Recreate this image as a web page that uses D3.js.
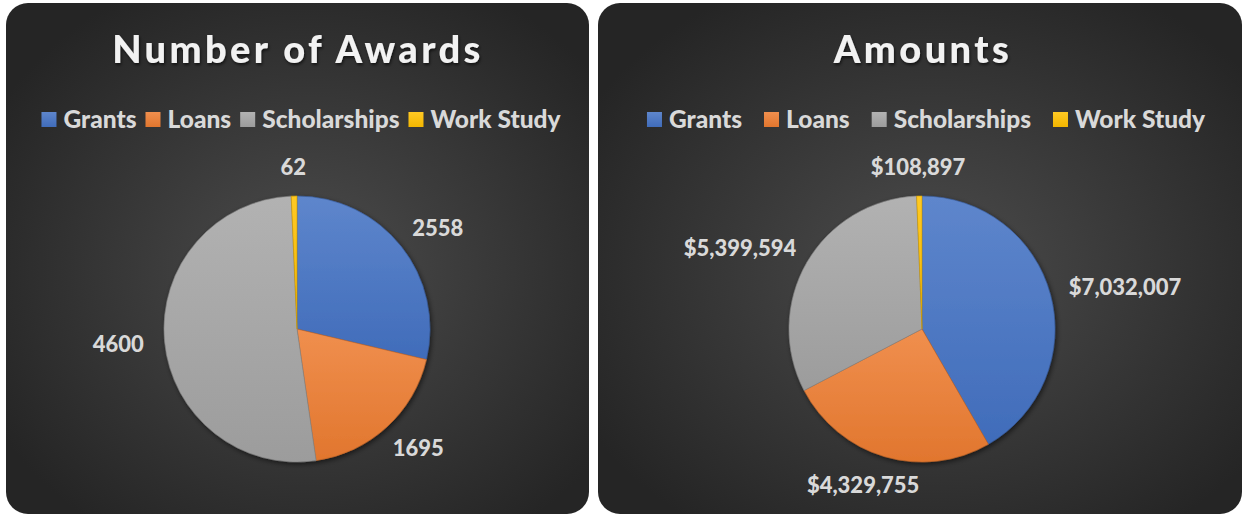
<!DOCTYPE html>
<html>
<head>
<meta charset="utf-8">
<script src="https://d3js.org/d3.v7.min.js"></script>
<style>
  body { margin: 0; background: #ffffff; }
  text { font-family: Lato, "Open Sans", sans-serif; font-weight: bold; }
</style>
</head>
<body>
<div id="chart"></div>
<script>
  // chart data
  var categories = ["Grants", "Loans", "Scholarships", "Work Study"];
  var awards = [2558, 1695, 4600, 62];
  var amounts = [7032007, 4329755, 5399594, 108897];
  var titles = ["Number of Awards", "Amounts"];
  var colors = ["#4472C4", "#ED7D31", "#A5A5A5", "#FFC000"];

  var width = 1243, height = 514;
  var radius = 133;

  var svg = d3.select("#chart")
    .append("svg")
      .attr("width", width)
      .attr("height", height);

  var defs = svg.append("defs");

  // panel background
  var bg = defs.append("radialGradient")
    .attr("id", "bg")
    .attr("cx", "52%").attr("cy", "52%").attr("r", "62%");
  bg.append("stop").attr("offset", "0%").attr("stop-color", "#4c4c4c");
  bg.append("stop").attr("offset", "100%").attr("stop-color", "#252525");

  // slice gradients, lighter at the top
  colors.forEach(function(c, i) {
    var g = defs.append("linearGradient")
      .attr("id", "slice" + i)
      .attr("x1", 0).attr("y1", 0).attr("x2", 0).attr("y2", 1);
    g.append("stop").attr("offset", "0%").attr("stop-color", d3.interpolateRgb(c, "#ffffff")(0.14));
    g.append("stop").attr("offset", "100%").attr("stop-color", d3.color(c).darker(0.15));
  });

  var shadow = defs.append("filter").attr("id", "shadow")
    .attr("x", "-20%").attr("y", "-20%").attr("width", "140%").attr("height", "140%");
  shadow.append("feDropShadow")
    .attr("dx", 1.5).attr("dy", 2).attr("stdDeviation", 2.5)
    .attr("flood-color", "#000").attr("flood-opacity", 0.55);

  var textShadow = defs.append("filter").attr("id", "tshadow");
  textShadow.append("feDropShadow")
    .attr("dx", 1).attr("dy", 2).attr("stdDeviation", 1.5)
    .attr("flood-color", "#000").attr("flood-opacity", 0.6);

  var fmtCount = d3.format("d");
  var fmtMoney = function(d) { return "$" + d3.format(",")(d); };

  var panels = [
    { x: 6,   w: 583, cx: 297, values: awards,  title: titles[0], fmt: fmtCount, gap: 9 },
    { x: 598, w: 644, cx: 922, values: amounts, title: titles[1], fmt: fmtMoney, gap: 22 }
  ];

  var pie = d3.pie().sort(null).value(function(d) { return d; });
  var arc = d3.arc().innerRadius(0).outerRadius(radius);
  var cy = 329;

  panels.forEach(function(p) {
    var g = svg.append("g");

    g.append("rect")
      .attr("x", p.x).attr("y", 3)
      .attr("width", p.w).attr("height", 511)
      .attr("rx", 22)
      .attr("fill", "url(#bg)");

    // title
    g.append("text")
      .attr("x", p.cx + 1)
      .attr("y", 63)
      .attr("text-anchor", "middle")
      .style("font-size", "38px")
      .style("font-weight", 900)
      .style("letter-spacing", "3.4px")
      .style("fill", "#f2f2f2")
      .attr("filter", "url(#tshadow)")
      .text(p.title);

    // legend
    var leg = g.append("g");
    var xx = 0;
    categories.forEach(function(c, i) {
      leg.append("rect")
        .attr("x", xx).attr("y", 112)
        .attr("width", 15).attr("height", 15)
        .attr("fill", "url(#slice" + i + ")");
      var t = leg.append("text")
        .attr("x", xx + 22).attr("y", 128)
        .style("font-size", "24.5px")
        .style("font-weight", 900)
        .style("fill", "#d9d9d9")
        .text(c);
      xx += 22 + t.node().getComputedTextLength() + p.gap;
    });
    xx -= p.gap;
    leg.attr("transform", "translate(" + (p.cx + 4 - xx / 2) + ",0)");

    // pie
    var arcs = pie(p.values);
    g.append("g")
      .attr("transform", "translate(" + p.cx + "," + cy + ")")
      .attr("filter", "url(#shadow)")
      .selectAll("path")
      .data(arcs)
      .enter()
      .append("path")
        .attr("d", arc)
        .attr("fill", function(d, i) { return "url(#slice" + i + ")"; })
        .attr("stroke", function(d, i) { return d3.color(colors[i]).darker(0.6); })
        .attr("stroke-width", 0.6);

    // data labels, outside end
    arcs.forEach(function(d) {
      var a = (d.startAngle + d.endAngle) / 2;
      var t = g.append("text")
        .attr("text-anchor", "middle")
        .style("font-size", "22px")
        .style("font-weight", 900)
        .style("fill", "#d9d9d9")
        .text(p.fmt(d.data));
      var w = t.node().getComputedTextLength();
      var h = 16;
      var ax = p.cx + (radius + 21) * Math.sin(a);
      var ay = cy - (radius + 21) * Math.cos(a);
      var lx = ax + Math.sin(a) * w / 2;
      var ly = ay - Math.cos(a) * h / 2;
      t.attr("x", lx).attr("y", ly + 8);
    });
  });
</script>
</body>
</html>
